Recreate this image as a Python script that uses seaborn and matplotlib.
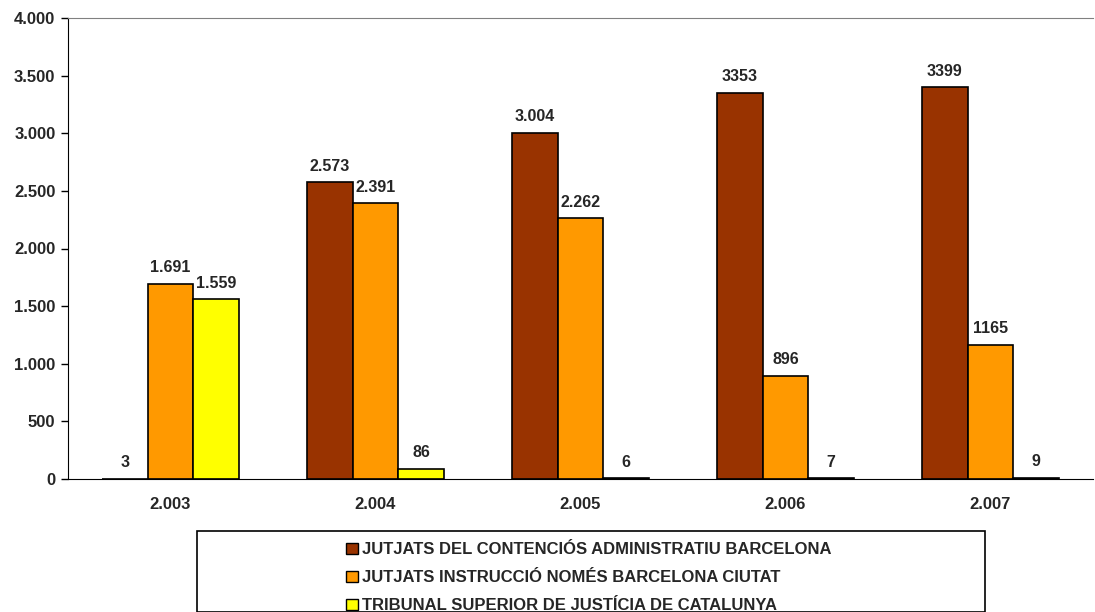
import pandas as pd
import matplotlib
matplotlib.use("Agg")
import matplotlib.pyplot as plt
import seaborn as sns
from matplotlib.patches import Rectangle
from matplotlib.ticker import FuncFormatter

# dades llegides del grafic
years = ["2.003", "2.004", "2.005", "2.006", "2.007"]
series = [
    "JUTJATS DEL CONTENCIÓS ADMINISTRATIU BARCELONA",
    "JUTJATS INSTRUCCIÓ NOMÉS BARCELONA CIUTAT",
    "TRIBUNAL SUPERIOR DE JUSTÍCIA DE CATALUNYA",
]
contencios = [3, 2573, 3004, 3353, 3399]
instruccio = [1691, 2391, 2262, 896, 1165]
tsjc = [1559, 86, 6, 7, 9]
# etiquetes tal com surten al grafic (2006-2007 sense punt de milers)
labels_contencios = ["3", "2.573", "3.004", "3353", "3399"]
labels_instruccio = ["1.691", "2.391", "2.262", "896", "1165"]
labels_tsjc = ["1.559", "86", "6", "7", "9"]

colors = ["#993300", "#FF9900", "#FFFF00"]

df = pd.DataFrame({
    "any": years * 3,
    "serie": [series[0]] * 5 + [series[1]] * 5 + [series[2]] * 5,
    "valor": contencios + instruccio + tsjc,
})

sns.set_style("white")
plt.rcParams["font.family"] = ["Liberation Sans", "DejaVu Sans"]

fig = plt.figure(figsize=(10.95, 6.12), dpi=100)
ax = fig.add_axes([68 / 1095, 1 - 479 / 612, 1025 / 1095, 461 / 612])

sns.barplot(data=df, x="any", y="valor", hue="serie", hue_order=series,
            palette=colors, width=0.67, edgecolor="black", linewidth=1.2,
            saturation=1, ax=ax, legend=False)

all_labels = [labels_contencios, labels_instruccio, labels_tsjc]
for cont, labs in zip(ax.containers, all_labels):
    for bar, lab in zip(cont, labs):
        ax.text(bar.get_x() + bar.get_width() / 2, bar.get_height() + 75, lab,
                ha="center", va="bottom", fontsize=11.5, fontweight="bold")

ax.set_ylim(0, 4000)
ax.set_xlim(-0.5, 4.5)
ax.set_yticks(range(0, 4001, 500))
ax.yaxis.set_major_formatter(FuncFormatter(lambda v, p: f"{int(v):,}".replace(",", ".")))
ax.set_xticks([-0.5, 0.5, 1.5, 2.5, 3.5, 4.5], minor=False)
ax.set_xticklabels([])
ax.set_xticks(range(5), minor=True)
ax.set_xticklabels(years, minor=True)
ax.tick_params(axis="x", which="major", direction="out", length=5, width=1, color="black")
ax.tick_params(axis="x", which="minor", length=0, pad=13)
ax.tick_params(axis="y", direction="out", length=5, width=1, left=True, color="black", pad=4)
for lab in ax.get_xticklabels(minor=True) + ax.get_yticklabels():
    lab.set_fontsize(12)
    lab.set_fontweight("bold")
ax.set_xlabel("")
ax.set_ylabel("")

ax.spines["left"].set_color("black")
ax.spines["bottom"].set_color("black")
ax.spines["top"].set_color("#808080")
ax.spines["right"].set_visible(False)

# caixa de la llegenda
fig.patches.append(Rectangle((197 / 1095, 0), 788 / 1095, 81 / 612,
                             transform=fig.transFigure, fill=False,
                             edgecolor="black", linewidth=1.2))
handles = [Rectangle((0, 0), 1, 1, facecolor=c, edgecolor="black") for c in colors]
fig.legend(handles, series, loc="upper left", bbox_to_anchor=(338 / 1095, 1 - 534 / 612),
           frameon=False, prop={"weight": "bold", "size": 12},
           handlelength=0.7, handleheight=0.7, handletextpad=0.25, labelspacing=0.78,
           borderpad=0)

fig.savefig("out.png", dpi=100)
